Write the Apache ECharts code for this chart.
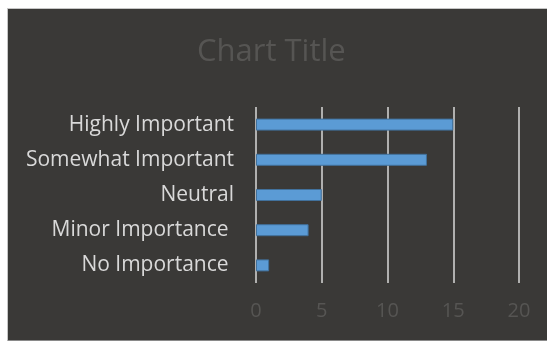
<!DOCTYPE html>
<html>
<head>
<meta charset="utf-8">
<script src="https://cdn.jsdelivr.net/npm/echarts@6/dist/echarts.min.js"></script>
<style>
    html, body { margin: 0; padding: 0; background: #ffffff; }
    #chart {
        position: absolute;
        left: 7px;
        top: 8px;
        width: 540px;
        height: 331px;
        border-left: 1px solid #c6c6c6;
        border-top: 1px solid #c6c6c6;
        border-bottom: 2px solid #8a8a8a;
    }
</style>
</head>
<body>
<div id="chart"></div>
<script>
// 数据
const categories = ['No Importance ', 'Minor Importance ', 'Neutral', 'Somewhat Important', 'Highly Important'];
const values = [1, 4, 5, 13, 15];
const xTicks = [0, 5, 10, 15, 20];

const chart = echarts.init(document.getElementById('chart'));
chart.setOption({
    backgroundColor: '#3a3937',
    animation: false,
    title: {
        text: 'Chart Title',
        left: 184,
        top: 23,
        textStyle: {
            color: '#565553',
            fontSize: 31,
            fontWeight: 'normal',
            fontFamily: 'Open Sans'
        }
    },
    grid: {
        left: 248,
        right: 29,
        top: 98,
        bottom: 57
    },
    xAxis: {
        type: 'value',
        min: xTicks[0],
        max: xTicks[xTicks.length - 1],
        interval: 5,
        axisLine: { show: false },
        axisTick: { show: false },
        axisLabel: {
            color: '#565553',
            fontSize: 20,
            margin: 18,
            fontFamily: 'Open Sans'
        },
        splitLine: {
            lineStyle: { color: '#d9d9d9', width: 1.5 }
        }
    },
    yAxis: {
        type: 'category',
        data: categories,
        axisLine: { show: false },
        axisTick: { show: false },
        axisLabel: {
            color: '#d9d9d9',
            fontSize: 21,
            margin: 22,
            fontFamily: 'Open Sans'
        }
    },
    series: [{
        type: 'bar',
        data: values,
        barWidth: 12,
        itemStyle: {
            color: '#5b9bd5',
            borderColor: '#41719c',
            borderWidth: 1
        }
    }]
});
</script>
</body>
</html>
